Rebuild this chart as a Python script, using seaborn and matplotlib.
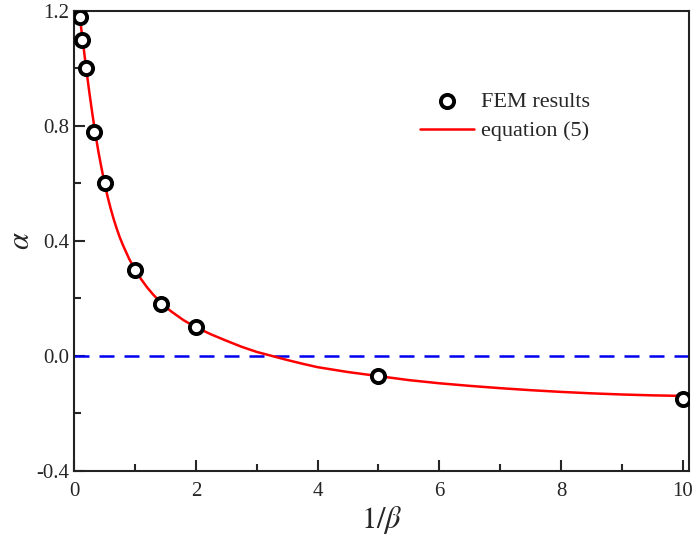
import numpy as np
import pandas as pd
import matplotlib
matplotlib.use('Agg')
import matplotlib.pyplot as plt
from matplotlib.ticker import MultipleLocator
import seaborn as sns

# FEM results
fem_x = [0.1, 0.13, 0.2, 0.33, 0.5, 1.0, 1.43, 2.0, 5.0, 10.0]
fem_y = [1.18, 1.10, 1.00, 0.78, 0.60, 0.30, 0.18, 0.10, -0.068, -0.15]

# equation (5) curve
eq_x = [0.08, 0.1, 0.15, 0.2, 0.25, 0.3, 0.35, 0.4, 0.45, 0.5, 0.55, 0.6, 0.65, 0.7,
        0.75, 0.8, 0.9, 1.0, 1.1, 1.2, 1.3, 1.4, 1.5, 1.6, 1.8, 2.0, 2.25, 2.5, 2.75,
        3.0, 3.25, 3.5, 3.75, 4.0, 4.5, 5.0, 5.5, 6.0, 6.5, 7.0, 7.5, 8.0, 8.5, 9.0,
        9.5, 10.0, 10.15]
eq_y = [1.20, 1.165, 1.08, 0.995, 0.915, 0.84, 0.77, 0.708, 0.652, 0.60, 0.553, 0.512, 0.475, 0.442,
        0.412, 0.386, 0.339, 0.30, 0.267, 0.238, 0.213, 0.191, 0.171, 0.154, 0.124, 0.10, 0.075, 0.053, 0.032,
        0.014, 0.0, -0.014, -0.027, -0.039, -0.056, -0.07, -0.084, -0.095, -0.104, -0.112, -0.119, -0.125, -0.130, -0.134,
        -0.137, -0.139, -0.140]

fem = pd.DataFrame({'x': fem_x, 'y': fem_y})
eq = pd.DataFrame({'x': eq_x, 'y': eq_y})

sns.set_style('ticks')
plt.rcParams['font.family'] = ['Liberation Serif', 'DejaVu Serif']
plt.rcParams['mathtext.fontset'] = 'stix'

fig = plt.figure(figsize=(7, 5.47), dpi=100)
ax = fig.add_axes([0.106, 0.139, 0.878, 0.841])

ax.axhline(0, color='#0000ee', linestyle=(0, (6, 4)), linewidth=1.8, zorder=1)
sns.lineplot(data=eq, x='x', y='y', ax=ax, color='#ff0000', linewidth=1.8,
             label='equation (5)', zorder=2, sort=False)
sns.scatterplot(data=fem, x='x', y='y', ax=ax, marker='o', s=90, facecolor='white',
                edgecolor='black', linewidth=2.8, label='FEM results', zorder=3)

ax.set_xlim(0, 10.1)
ax.set_ylim(-0.4, 1.2)
ax.xaxis.set_minor_locator(MultipleLocator(1))
ax.yaxis.set_minor_locator(MultipleLocator(0.2))
ax.set_xticks([0, 2, 4, 6, 8, 10])
ax.set_xticklabels(['0', '2', '4', '6', '8', '10'])
ax.set_yticks([-0.4, 0.0, 0.4, 0.8, 1.2])
ax.set_yticklabels(['-0.4', '0.0', '0.4', '0.8', '1.2'])
ax.tick_params(which='both', direction='in', top=False, right=False, labelsize=15, width=1.5)
ax.tick_params(which='major', length=8)
ax.tick_params(which='minor', length=5)
ax.tick_params(axis='x', pad=8)
for s in ax.spines.values():
    s.set_linewidth(1.5)
    s.set_color('#222222')

ax.set_xlabel(r'$1/\beta$', fontsize=22, labelpad=2)
ax.set_ylabel(r'$\alpha$', fontsize=22, labelpad=0)

h, l = ax.get_legend_handles_labels()
ax.legend(h[::-1], l[::-1], loc='upper left', bbox_to_anchor=(0.563, 0.825), frameon=False,
          fontsize=16, handlelength=2.4, handletextpad=0.35, labelspacing=0.4,
          borderpad=0, borderaxespad=0)

fig.savefig('out.png', dpi=100)
